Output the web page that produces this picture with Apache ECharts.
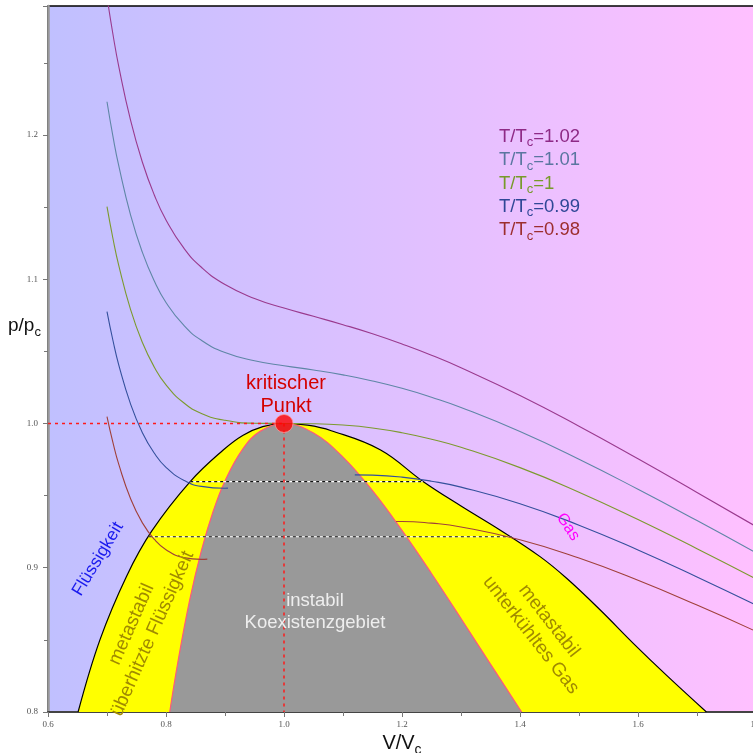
<!DOCTYPE html>
<html>
<head>
<meta charset="utf-8">
<script src="https://cdn.jsdelivr.net/npm/echarts@6/dist/echarts.min.js"></script>
<style>html,body{margin:0;padding:0;background:#fff}#c{width:753px;height:753px}</style>
</head>
<body>
<div id="c"></div>
<script>
// ---- data (reduced volume V/Vc, reduced pressure p/pc) ----
const vIso  = [0.70,0.71,0.72,0.74,0.76,0.78,0.80,0.83,0.86,0.90,0.95,1.00,1.05,1.10,1.15,1.20,1.25,1.30,1.40,1.50,1.60,1.70,1.80];
const pT102 = [1.2957,1.2700,1.2474,1.2101,1.1811,1.1586,1.1411,1.1217,1.1083,1.0963,1.0867,1.0800,1.0743,1.0685,1.0622,1.0551,1.0473,1.0386,1.0194,0.9981,0.9755,0.9522,0.9286];
const pT101 = [1.2230,1.1992,1.1785,1.1445,1.1186,1.0989,1.0839,1.0681,1.0577,1.0492,1.0435,1.0400,1.0371,1.0337,1.0295,1.0244,1.0182,1.0111,0.9944,0.9752,0.9544,0.9327,0.9104];
const pT100 = [1.1503,1.1284,1.1095,1.0789,1.0561,1.0392,1.0268,1.0144,1.0070,1.0022,1.0002,1.0000,0.9998,0.9989,0.9969,0.9936,0.9891,0.9835,0.9694,0.9524,0.9334,0.9132,0.8923];
const vLiq099 = [0.70,0.71,0.72,0.74,0.76,0.78,0.80,0.83,0.86,0.90,0.905];
const pLiq099 = [1.0776,1.0577,1.0405,1.0134,0.9936,0.9795,0.9696,0.9607,0.9564,0.9551,0.9552];
const vGas099 = [1.12,1.15,1.20,1.25,1.30,1.40,1.50,1.60,1.70,1.80];
const pGas099 = [0.9644,0.9642,0.9628,0.9600,0.9559,0.9444,0.9295,0.9123,0.8936,0.8741];
const vLiq098 = [0.70,0.71,0.72,0.74,0.76,0.78,0.80,0.83,0.86,0.87];
const pLiq098 = [1.0048,0.9869,0.9716,0.9478,0.9311,0.9198,0.9125,0.9070,0.9058,0.9060];
const vGas098 = [1.19,1.20,1.25,1.30,1.40,1.50,1.60,1.70,1.80];
const pGas098 = [0.9321,0.9321,0.9309,0.9283,0.9194,0.9067,0.8913,0.8741,0.8559];
// coexistence (binodal) curve
const vBin = [0.651,0.688,0.733,0.776,0.841,0.897,0.930,0.964,1.000,1.040,1.080,1.163,1.235,1.300,1.366,1.434,1.479,1.536,1.592,1.649,1.716];
const pBin = [0.800,0.850,0.894,0.9255,0.9597,0.9816,0.9917,0.9978,1.000,0.9988,0.9950,0.9818,0.9600,0.9428,0.9262,0.9077,0.8927,0.8707,0.8476,0.8252,0.800];
// spinodal curve
const vSpin = [0.8063,0.82,0.84,0.86,0.88,0.90,0.93,0.96,1.00,1.05,1.10,1.15,1.20,1.25,1.30,1.35,1.4028];
const pSpin = [0.800,0.8343,0.8773,0.9119,0.9392,0.9602,0.9822,0.9947,1.000,0.9934,0.9767,0.9534,0.9259,0.8960,0.8648,0.8332,0.800];
// Maxwell lines
const pSat  = [0.9597, 0.9215];
const vSatL = [0.841, 0.771];
const vSatG = [1.235, 1.386];
// critical point
const vCrit = 1.0, pCrit = 1.0;
const isoLabels = ['T/T{s|c}=1.02','T/T{s|c}=1.01','T/T{s|c}=1','T/T{s|c}=0.99','T/T{s|c}=0.98'];
const isoColors = ['#9a3a8e','#5f86a6','#7c9a2e','#34509c','#a0403a'];
const labelColors = ['#8e2a86','#5a76a0','#779a2a','#2f4796','#9c2e2e'];

const zip = (a,b) => a.map((x,i)=>[x,b[i]]);
const FONT = '"Liberation Sans", Arial, sans-serif';

const chart = echarts.init(document.getElementById('c'), null, {renderer:'canvas'});

function iso(data, color){
  return {type:'line', data, smooth:true, showSymbol:false, symbol:'none', silent:true,
    lineStyle:{color, width:1.1}, z:5};
}

const series = [
  {type:'line', data: zip(vBin,pBin), smooth:0.4, showSymbol:false, symbol:'none',
   lineStyle:{color:'#000', width:1.2}, areaStyle:{color:'#ffff00', origin:'start', opacity:1}, z:2},
  {type:'line', data: zip(vSpin,pSpin), smooth:0.4, showSymbol:false, symbol:'none',
   lineStyle:{color:'#ff5a78', width:1.2}, areaStyle:{color:'#999999', origin:'start', opacity:1}, z:3},
  {type:'line', data:[[0.6,pCrit],[vCrit,pCrit]], showSymbol:false, symbol:'none',
   lineStyle:{color:'#ff1a1a', width:1.5, type:[3,4]}, z:6},
  {type:'line', data:[[vCrit,pCrit],[vCrit,0.8]], showSymbol:false, symbol:'none',
   lineStyle:{color:'#ff1a1a', width:1.5, type:[3,4]}, z:6},
];
pSat.forEach((p,i)=>{
  series.push({type:'line', data:[[vSatL[i],p],[vSatG[i],p]], showSymbol:false, symbol:'none',
    lineStyle:{color:'#ffffff', width:1.2}, z:4});
  series.push({type:'line', data:[[vSatL[i],p],[vSatG[i],p]], showSymbol:false, symbol:'none',
    lineStyle:{color:'#111', width:1.2, type:[3,3]}, z:4});
});
series.push(iso(zip(vIso,pT102), isoColors[0]));
series.push(iso(zip(vIso,pT101), isoColors[1]));
series.push(iso(zip(vIso,pT100), isoColors[2]));
series.push(iso(zip(vLiq099,pLiq099), isoColors[3]));
series.push(iso(zip(vGas099,pGas099), isoColors[3]));
series.push(iso(zip(vLiq098,pLiq098), isoColors[4]));
series.push(iso(zip(vGas098,pGas098), isoColors[4]));
series.push({type:'scatter', data:[[vCrit,pCrit]], symbolSize:18,
  itemStyle:{color:'#ff0000', borderColor:'#ff9999', borderWidth:1}, z:10});

function txt(x,y,text,fill,size,rotDeg){
  return {type:'text', x, y, rotation:(rotDeg||0)*Math.PI/180, z:100,
    style:{text, fill, font:`${size}px ${FONT}`, align:'center', verticalAlign:'middle',
      textAlign:'center', textVerticalAlign:'middle', lineHeight: Math.round(size*1.2)}};
}
function richTxt(x,y,text,fill,size){
  return {type:'text', x, y, z:100,
    style:{text, fill, font:`${size}px ${FONT}`, align:'left', verticalAlign:'middle',
      textAlign:'left', textVerticalAlign:'middle',
      rich:{
        s:{fill, fontSize:Math.round(size*0.7), fontFamily:FONT, verticalAlign:'bottom', lineHeight:size+6}
      }}};
}

const graphics = [
  txt(286,383,'kritischer','#d40000',20,0),
  txt(286,406,'Punkt','#d40000',20,0),
  txt(98,559,'Flüssigkeit','#1a1aee',17.5,59),
  txt(142,629,'metastabil\nüberhitzte Flüssigkeit','#a08a00',19,66),
  txt(315,612,'instabil\nKoexistenzgebiet','#eeeeee',18.5,0),
  txt(568,527,'Gas','#ff00ff',16,-56),
  txt(540,628,'metastabil\nunterkühltes Gas','#a08a00',19,-52),
  richTxt(8,326,'p/p{s|c}','#111',19)
];
isoLabels.forEach((t,i)=>{ graphics.push(richTxt(499,137+i*23.3,t,labelColors[i],18.5)); });

const option = {
  animation:false,
  backgroundColor:'#ffffff',
  grid:{left:48, right:-3, top:6, bottom:41, show:true, containLabel:false, outerBoundsMode:'none',
    backgroundColor:new echarts.graphic.LinearGradient(0,0,1,0,[{offset:0,color:'#c0c0ff'},{offset:1,color:'#ffc0ff'}]),
    borderColor:'#000', borderWidth:1.5},
  xAxis:{type:'value', min:0.6, max:1.8, interval:0.2,
    name:'V/V{s|c}', nameLocation:'middle', nameGap:18,
    nameTextStyle:{fontSize:20, fontFamily:FONT, color:'#111',
      rich:{s:{fontSize:14, fontFamily:FONT, color:'#111', verticalAlign:'bottom', lineHeight:27}}},
    axisLine:{lineStyle:{color:'#444', width:2}},
    axisTick:{length:5, lineStyle:{color:'#777'}},
    minorTick:{show:true, splitNumber:2, length:4, lineStyle:{color:'#777'}},
    splitLine:{show:false}, minorSplitLine:{show:false},
    axisLabel:{fontFamily:'"Liberation Serif", serif', fontSize:9, color:'#555', margin:8,
      formatter:v=>v.toFixed(1)}},
  yAxis:{type:'value', min:0.8, max:1.2894, interval:0.1,
    axisLine:{show:true, lineStyle:{color:'#999', width:2.5}},
    axisTick:{show:true, length:5, lineStyle:{color:'#777'}},
    minorTick:{show:true, splitNumber:2, length:4, lineStyle:{color:'#777'}},
    splitLine:{show:false}, minorSplitLine:{show:false},
    axisLabel:{fontFamily:'"Liberation Serif", serif', fontSize:9, color:'#555', margin:10,
      showMaxLabel:false, formatter:v=>v.toFixed(1)}},
  series,
  graphic:graphics
};
chart.setOption(option);
</script>
</body>
</html>
